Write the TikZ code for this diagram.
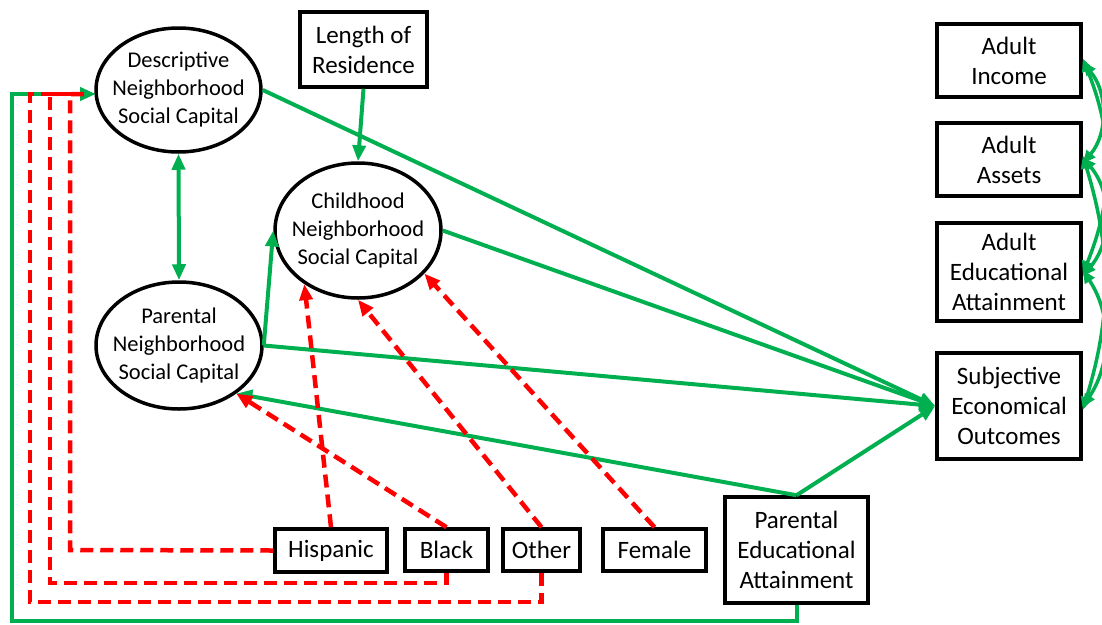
\documentclass[tikz,border=0pt]{standalone}
\usepackage{fontspec}
\setmainfont{Carlito}
\usetikzlibrary{shapes.geometric,arrows.meta}
\definecolor{pathgreen}{RGB}{0,176,80}
\definecolor{pathred}{RGB}{255,0,0}
\newcommand{\boxfont}{\fontsize{25}{30}\selectfont}
\newcommand{\ovalfont}{\fontsize{22.5}{28}\selectfont}
\tikzset{
  box/.style={draw=black, line width=3.5pt, rectangle, inner sep=0pt, align=center, font=\boxfont},
  oval/.style={draw=black, line width=3.5pt, ellipse, inner sep=0pt},
  ovaltext/.style={align=center, font=\ovalfont, inner sep=0pt},
  gtip/.style={-{Triangle[length=16pt,width=13pt]}},
  gline/.style={draw=pathgreen, line width=4pt},
  rline/.style={draw=pathred, line width=4.5pt, dash pattern=on 13pt off 7pt},
  rtip/.style={-{Triangle[length=16pt,width=13pt]}},
  covar/.style={draw=pathgreen, line width=3.5pt, {Triangle[length=13pt,width=11pt]}-{Triangle[length=13pt,width=11pt]}},
}
\begin{document}
\begin{tikzpicture}[x=1pt,y=-1pt]
\useasboundingbox (0,0) rectangle (1102,624);

% latent constructs
\node[oval, minimum width=165, minimum height=124] (desc) at (178.5,90) {};
\node[ovaltext] (desct) at (desc.center) {Descriptive\\Neighborhood\\Social Capital};
\node[oval, minimum width=166, minimum height=135] (child) at (358,230.5) {};
\node[ovaltext] (childt) at (child.center) {Childhood\\Neighborhood\\Social Capital};
\node[oval, minimum width=166, minimum height=127] (par) at (179,345.5) {};
\node[ovaltext] (part) at (par.center) {Parental\\Neighborhood\\Social Capital};

% observed variables
\node[box, minimum width=127, minimum height=75] (len) at (363.5,49.5) {Length of\\Residence};
\node[box, minimum width=144, minimum height=73] (inc) at (1009,60.5) {Adult\\Income};
\node[box, minimum width=144, minimum height=73] (ass) at (1009,159.5) {Adult\\Assets};
\node[box, minimum width=144, minimum height=98] (aed) at (1009,272) {Adult\\Educational\\Attainment};
\node[box, minimum width=144, minimum height=106] (subj) at (1009,406) {Subjective\\Economical\\Outcomes};
\node[box, minimum width=112, minimum height=43] (hisp) at (331,550.5) {Hispanic};
\node[box, minimum width=83, minimum height=42] (black) at (446.5,550) {Black};
\node[box, minimum width=77, minimum height=42] (other) at (541.5,550) {Other};
\node[box, minimum width=103, minimum height=42] (female) at (654.5,550) {Female};
\node[box, minimum width=143, minimum height=106] (paredu) at (796.5,550) {Parental\\Educational\\Attainment};

\coordinate (descin) at (96,94);

% positive paths
\draw[gline, gtip] (len.south) -- (child.north);
\draw[gline, {Triangle[length=16pt,width=13pt]}-{Triangle[length=16pt,width=13pt]}] (desc.south) -- (par.north);
\draw[gline, gtip] (par.east) -- (child.west);
\draw[gline, gtip] (desc.east) -- (subj.west);
\draw[gline, gtip] (child.east) -- (subj.west);
\draw[gline, gtip] (par.east) -- (subj.west);
\draw[gline, gtip] (paredu.north) -- (subj.west);
\draw[gline, gtip] (paredu.north) -- (par.-40);
\draw[gline, gtip] (paredu.south) -- (796.5,621) -- (12,621) -- (12,94) -- (descin);

% negative paths
\draw[rline, rtip] (hisp.north) -- (child.-135);
\draw[rline, rtip] (other.north) -- (child.south);
\draw[rline, rtip] (female.north) -- (child.-33);
\draw[rline, rtip] (black.north) -- (par.-40);
\draw[rline] (hisp.west) -- (70,550) -- (70,94) -- (84,94);
\draw[rline] (black.south) -- (446.5,583) -- (50,583) -- (50,94) -- (84,94);
\draw[rline] (other.south) -- (541.5,602) -- (30,602) -- (30,94) -- (84,94);

% covariances among adult outcomes
\draw[covar] ([yshift=-2]inc.east) to[bend left=40] ([yshift=-4]ass.east);
\draw[covar] ([yshift=2]inc.east) to[bend left=22] ([yshift=-2]aed.east);
\draw[covar] ([yshift=2]ass.east) to[bend left=40] ([yshift=-4]aed.east);
\draw[covar] ([yshift=4]ass.east) to[bend left=17] ([yshift=-4]subj.east);
\draw[covar] ([yshift=2]aed.east) to[bend left=33] ([yshift=-1]subj.east);
\end{tikzpicture}
\end{document}
